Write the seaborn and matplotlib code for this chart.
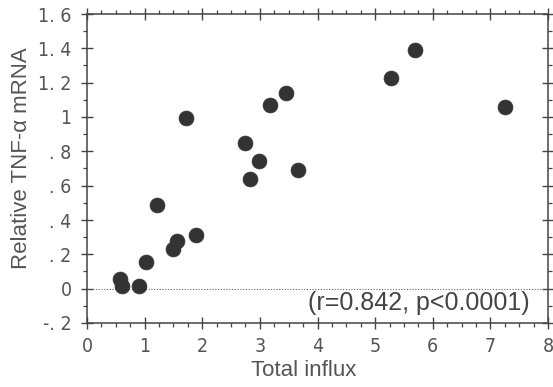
import matplotlib
matplotlib.use("Agg")
import matplotlib.pyplot as plt
import matplotlib.font_manager as fm
import seaborn as sns
import pandas as pd
from matplotlib.ticker import MultipleLocator, FixedLocator

total_influx = [0.57, 0.60, 0.91, 1.02, 1.21, 1.50, 1.57, 1.71, 1.89, 2.75, 2.82, 2.98, 3.17, 3.45, 3.67, 5.27, 5.70, 7.26]
tnf_mrna     = [0.057, 0.018, 0.018, 0.154, 0.49, 0.23, 0.277, 0.994, 0.31, 0.846, 0.64, 0.743, 1.07, 1.14, 0.694, 1.23, 1.39, 1.057]
y_ticks = [-0.2, 0, 0.2, 0.4, 0.6, 0.8, 1.0, 1.2, 1.4, 1.6]
y_labels = ["-. 2", "0", ". 2", ". 4", ". 6", ". 8", "1", "1. 2", "1. 4", "1. 6"]
x_ticks = [0, 1, 2, 3, 4, 5, 6, 7, 8]
annotation = "(r=0.842, p<0.0001)"

df = pd.DataFrame({"Total influx": total_influx, "Relative TNF-α mRNA": tnf_mrna})

sns.set_style("white")
plt.rcParams['font.family'] = ['Liberation Sans', 'DejaVu Sans']

# find a narrow/condensed font for tick labels
narrow = None
for f in fm.fontManager.ttflist:
    if f.name == 'Liberation Sans Narrow':
        narrow = dict(family='Liberation Sans Narrow', stretch='normal')
        break
if narrow is None:
    for f in fm.fontManager.ttflist:
        if f.name == 'DejaVu Sans' and 'Condensed' in f.fname:
            narrow = dict(family='DejaVu Sans', stretch='condensed')
            break
if narrow is None:
    narrow = dict(family='Liberation Sans', stretch='normal')

fig = plt.figure(figsize=(5.53, 3.87), dpi=100)
ax = fig.add_axes([87/553, 1-323/387, (548-87)/553, (323-14)/387])

sns.scatterplot(data=df, x="Total influx", y="Relative TNF-α mRNA", ax=ax,
                color="#333333", s=115, edgecolor="#333333", linewidth=0.5, zorder=3)

ax.axhline(0, color="#666666", linestyle=(0, (1, 1.5)), linewidth=0.8, zorder=1)

ax.set_xlim(0, 8)
ax.set_ylim(-0.2, 1.6)
ax.xaxis.set_major_locator(FixedLocator(x_ticks))
ax.xaxis.set_minor_locator(MultipleLocator(0.25))
ax.yaxis.set_major_locator(FixedLocator(y_ticks))
ax.yaxis.set_minor_locator(MultipleLocator(0.1))
ax.set_yticklabels(y_labels)
ax.set_xticklabels([str(t) for t in x_ticks])

for side in ["left", "right", "top", "bottom"]:
    ax.spines[side].set_color("#444444")
    ax.spines[side].set_linewidth(1.1)

ax.tick_params(which="major", direction="inout", length=8, width=1, color="#444444",
               top=True, right=True, bottom=True, left=True)
ax.tick_params(which="minor", direction="out", length=3, width=0.9, color="#444444",
               top=True, right=True, bottom=True, left=True)
for lab in ax.get_xticklabels() + ax.get_yticklabels():
    lab.set_family(narrow['family'])
    lab.set_stretch(narrow['stretch'])
    lab.set_fontsize(14)
    lab.set_color("#555555")
ax.tick_params(axis="x", pad=6)
ax.tick_params(axis="y", pad=7)

ax.set_xlabel("Total influx", fontsize=16, color="#555555", va="center")
ax.xaxis.set_label_coords(0.469, -0.153)
ax.set_ylabel("Relative TNF-α mRNA", fontsize=16, color="#555555", va="center")
ax.yaxis.set_label_coords(-0.141, 0.532)

ax.text(0.961, 0.066, annotation, transform=ax.transAxes, ha="right", va="center",
        fontsize=18, color="#444444")

fig.savefig("out.png", dpi=100)
